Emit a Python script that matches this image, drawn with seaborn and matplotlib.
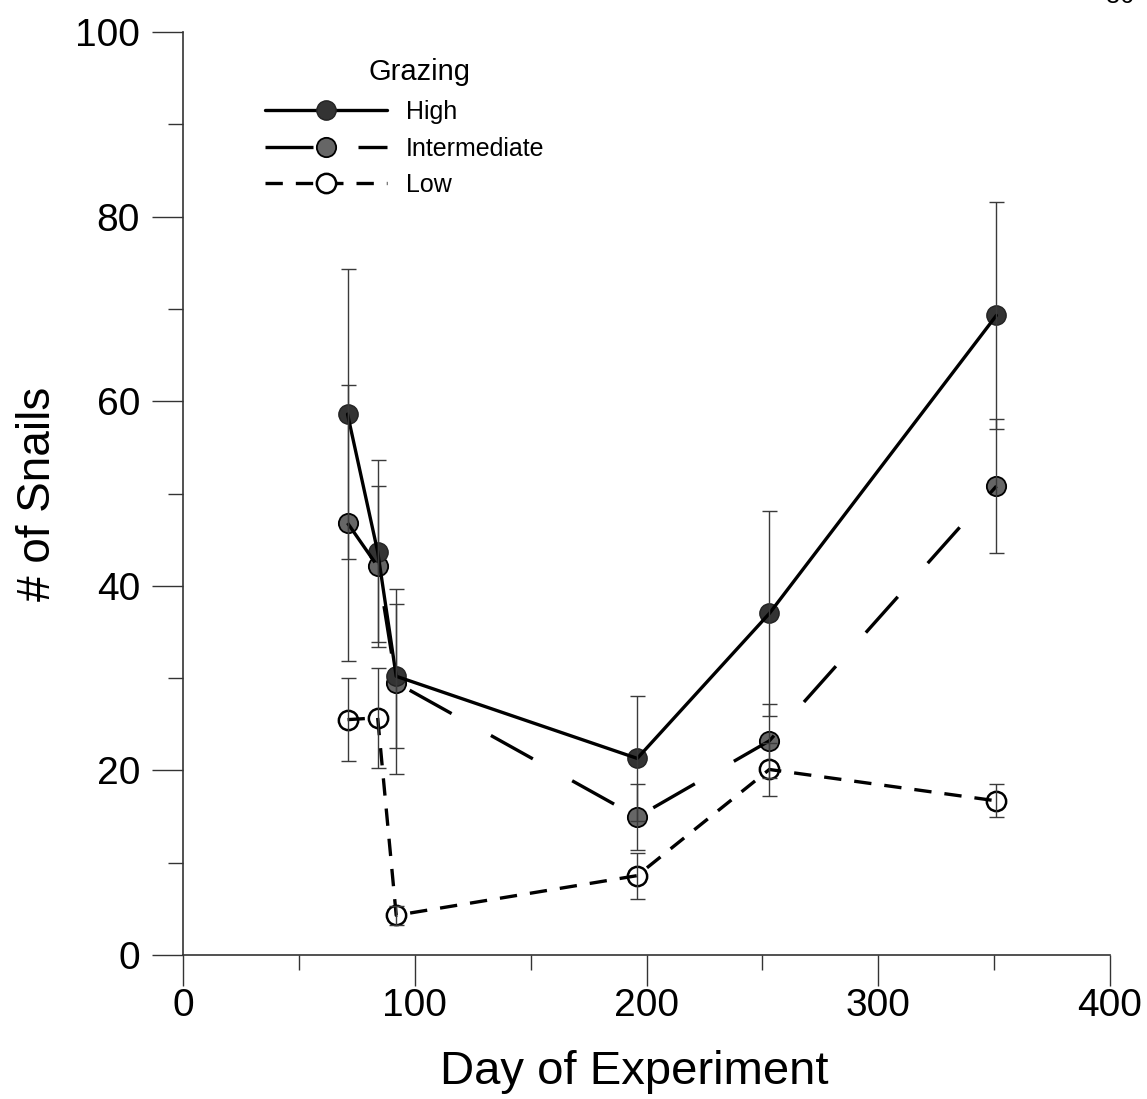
import matplotlib
matplotlib.use("Agg")
import matplotlib.pyplot as plt
from matplotlib.lines import Line2D
from matplotlib.ticker import MultipleLocator
import seaborn as sns
import pandas as pd
import numpy as np

# ---- data ----
days = [71, 84, 92, 196, 253, 351]
series_names = ["High", "Intermediate", "Low"]
high_mean = [58.6, 43.7, 30.2, 21.3, 37.0, 69.3]
high_err_lo = [15.7, 9.8, 10.6, 6.8, 11.1, 12.3]
high_err_hi = [15.7, 9.9, 9.4, 6.8, 11.1, 12.3]
int_mean = [46.8, 42.1, 29.5, 14.95, 23.2, 50.8]
int_err_lo = [15.0, 8.7, 7.1, 3.6, 4.0, 7.3]
int_err_hi = [15.0, 8.7, 8.5, 3.6, 4.0, 7.3]
low_mean = [25.5, 25.7, 4.3, 8.6, 20.1, 16.7]
low_err_lo = [4.5, 5.4, 1.0, 2.5, 2.9, 1.8]
low_err_hi = [4.5, 5.4, 1.0, 2.5, 2.9, 1.8]
legend_title = "Grazing"
x_label = "Day of Experiment"
y_label = "# of Snails"
x_ticks = [0, 100, 200, 300, 400]
y_ticks = [0, 20, 40, 60, 80, 100]
corner_text = "36"

sns.set_theme(style="white")
plt.rcParams["font.family"] = ["Liberation Sans", "DejaVu Sans"]
plt.rcParams["text.color"] = "black"
plt.rcParams["axes.labelcolor"] = "black"
plt.rcParams["xtick.color"] = "black"
plt.rcParams["ytick.color"] = "black"

W, H = 1147, 1099
fig = plt.figure(figsize=(W / 100, H / 100), dpi=100)
ax = fig.add_axes([183 / W, (H - 955) / H, (1110 - 183) / W, (955 - 32) / H])

frames = []
for name, m, lo, hi in [("High", high_mean, high_err_lo, high_err_hi),
                        ("Intermediate", int_mean, int_err_lo, int_err_hi),
                        ("Low", low_mean, low_err_lo, low_err_hi)]:
    frames.append(pd.DataFrame({"day": days, "snails": m, "lo": lo, "hi": hi, "Grazing": name}))
df = pd.concat(frames, ignore_index=True)

lw = 2.4
styles = {
    "High": dict(ls="-", face="#333333", edge="#222222", ew=1.0),
    "Intermediate": dict(ls=(0, (14.4, 13.5)), face="#666666", edge="black", ew=1.3),
    "Low": dict(ls=(0, (5.2, 3.9)), face="white", edge="black", ew=1.8),
}
msize = 13.9

# markers (bottom), then lines, then error bars
for name in ["Low", "Intermediate", "High"]:
    sub = df[df["Grazing"] == name]
    st = styles[name]
    sns.scatterplot(data=sub, x="day", y="snails", ax=ax, s=msize ** 2,
                    color=st["face"], edgecolor=st["edge"], linewidth=st["ew"],
                    zorder=3, legend=False)

for name in ["Low", "Intermediate", "High"]:
    sub = df[df["Grazing"] == name]
    st = styles[name]
    sns.lineplot(data=sub, x="day", y="snails", ax=ax, color="black",
                 linewidth=lw, linestyle=st["ls"], zorder=4, legend=False,
                 errorbar=None, sort=False)
    ax.errorbar(sub["day"], sub["snails"], yerr=[sub["lo"], sub["hi"]], fmt="none",
                ecolor="#3a3a3a", elinewidth=1.0, capsize=5.4, capthick=1.0, zorder=5)

ax.set_xlim(0, 400)
ax.set_ylim(0, 100)
ax.set_xticks(x_ticks)
ax.set_yticks(y_ticks)
ax.xaxis.set_minor_locator(MultipleLocator(50))
ax.yaxis.set_minor_locator(MultipleLocator(10))
ax.tick_params(axis="both", which="major", direction="out", length=22, width=1.0,
               color="#333333", labelsize=28, labelcolor="black")
ax.tick_params(axis="both", which="minor", direction="out", length=10.5, width=1.0,
               color="#333333")
ax.tick_params(axis="x", which="major", pad=2, bottom=True)
ax.tick_params(axis="x", which="minor", bottom=True)
ax.tick_params(axis="y", which="major", pad=9, left=True)
ax.tick_params(axis="y", which="minor", left=True)

for side in ["top", "right"]:
    ax.spines[side].set_visible(False)
for side in ["left", "bottom"]:
    ax.spines[side].set_color("#333333")
    ax.spines[side].set_linewidth(1.2)

ax.set_xlabel(x_label, fontsize=34, color="black")
ax.xaxis.set_label_coords((634 - 183) / 927, (955 - 1050) / 923)
ax.set_ylabel(y_label, fontsize=33, color="black", labelpad=11)

handles = []
for name in series_names:
    st = styles[name]
    handles.append(Line2D([0], [0], color="black", linewidth=lw, linestyle=st["ls"],
                          marker="o", markersize=msize, markerfacecolor=st["face"],
                          markeredgecolor=st["edge"], markeredgewidth=st["ew"]))
leg = ax.legend(handles, series_names, loc="upper left",
                bbox_to_anchor=(0.088, (955 - 100) / 923), frameon=False, fontsize=18,
                handlelength=4.9, handletextpad=0.75,
                labelspacing=0.5, borderpad=0, borderaxespad=0)
for t in leg.get_texts():
    t.set_color("black")
fig.text(419 / W, 1 - 72 / H, legend_title, fontsize=21, ha="center", va="center",
         color="black")

fig.text(1120 / W, 1 - 3 / H, corner_text, fontsize=18, ha="center", va="baseline")

fig.savefig("out.png", dpi=100)
